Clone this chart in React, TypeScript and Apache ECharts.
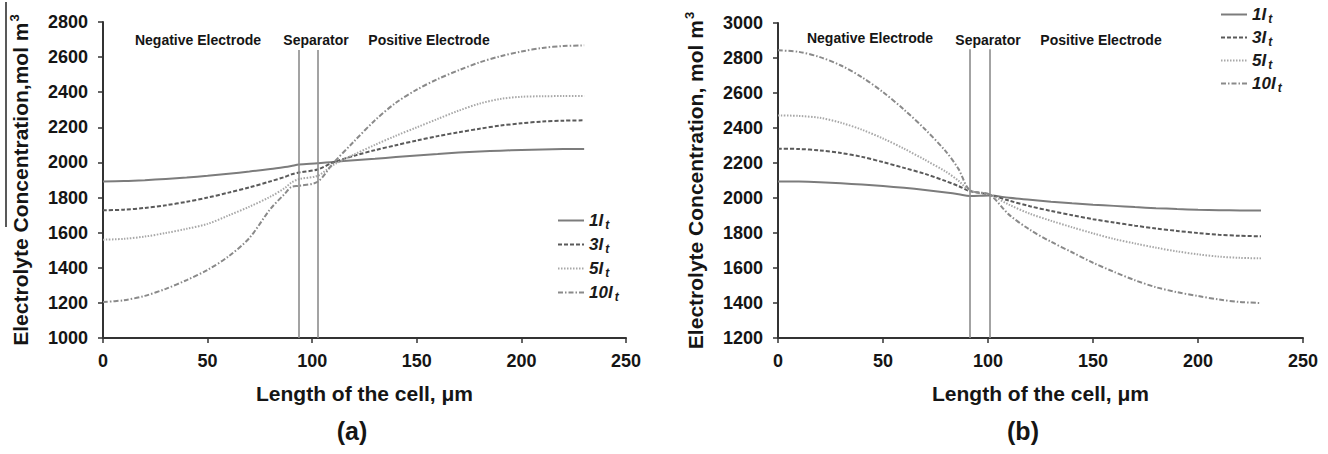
import React, { useEffect, useRef } from "react";
import * as echarts from "echarts";

// ---------- data ----------
const xA = [0, 10, 20, 30, 40, 50, 60, 70, 80, 87, 90, 93.7, 102.6, 110, 120, 130, 140, 150, 160, 170, 180, 190, 200, 210, 220, 230];
const a1 = [1892, 1894, 1899, 1906, 1914, 1924, 1936, 1948, 1962, 1974, 1980, 1988, 1995, 2003, 2012, 2021, 2031, 2040, 2048, 2056, 2062, 2067, 2071, 2074, 2076, 2077];
const a3 = [1727, 1731, 1741, 1756, 1776, 1800, 1828, 1858, 1892, 1918, 1932, 1943, 1960, 2000, 2038, 2070, 2098, 2125, 2150, 2172, 2192, 2210, 2223, 2233, 2238, 2240];
const a5 = [1560, 1565, 1578, 1598, 1622, 1650, 1698, 1748, 1805, 1855, 1885, 1905, 1924, 1985, 2045, 2100, 2152, 2200, 2248, 2295, 2335, 2362, 2374, 2377, 2378, 2378];
const a10 = [1205, 1215, 1240, 1280, 1330, 1388, 1465, 1570, 1735, 1823, 1860, 1867, 1890, 1995, 2120, 2240, 2340, 2415, 2475, 2525, 2570, 2605, 2632, 2652, 2663, 2667];

const xB = [0, 10, 20, 30, 40, 50, 60, 70, 80, 86, 91.3, 100.8, 110, 120, 130, 140, 150, 160, 170, 180, 190, 200, 210, 220, 230];
const b1 = [2095, 2094, 2090, 2084, 2077, 2068, 2058, 2046, 2032, 2022, 2011, 2014, 2001, 1990, 1979, 1970, 1962, 1955, 1948, 1942, 1937, 1933, 1930, 1929, 1928];
const b3 = [2282, 2280, 2272, 2257, 2235, 2205, 2172, 2138, 2096, 2068, 2040, 2019, 1985, 1953, 1926, 1902, 1879, 1860, 1842, 1826, 1812, 1800, 1790, 1784, 1781];
const b5 = [2472, 2469, 2458, 2430, 2390, 2340, 2282, 2218, 2150, 2098, 2043, 2019, 1962, 1910, 1870, 1833, 1798, 1766, 1740, 1716, 1695, 1678, 1665, 1658, 1655];
const b10 = [2844, 2835, 2805, 2757, 2690, 2605, 2505, 2393, 2265, 2165, 2045, 2019, 1905, 1818, 1750, 1690, 1630, 1578, 1530, 1490, 1462, 1440, 1420, 1406, 1400];

const seriesLabels = ["1I", "3I", "5I", "10I"];
const sepA = [93.7, 102.6];
const sepB = [91.3, 100.8];
const regionLabels = ["Negative Electrode", "Separator", "Positive Electrode"];

const FONT = '"Liberation Sans", Arial, Helvetica, sans-serif';

const styles = [
  { type: "solid" as any, color: "#7c7c7c", width: 2 },
  { type: [4, 2] as any, color: "#5a5a5a", width: 2 },
  { type: [1.5, 1.5] as any, color: "#a8a8a8", width: 2 },
  { type: [5, 2, 1.5, 2] as any, color: "#8a8a8a", width: 2 },
];

function pairs(xs: number[], ys: number[]) {
  return xs.map((x, i) => [x, ys[i]]);
}

export default function App() {
  const ref = useRef<HTMLDivElement>(null);
  useEffect(() => {
    if (!ref.current) return;
    const chart = echarts.init(ref.current, null, { renderer: "svg" });

    const labelMap: Record<string, string> = {};
    const aSets = [a1, a3, a5, a10];
    const bSets = [b1, b3, b5, b10];
    const series: any[] = [];
    const mk = (prefix: string, gi: number, xs: number[], sets: number[][], seps: number[], y0: number, y1: number) => {
      sets.forEach((ys, i) => {
        const name = prefix + seriesLabels[i];
        labelMap[name] = seriesLabels[i];
        series.push({
          name,
          type: "line",
          xAxisIndex: gi,
          yAxisIndex: gi,
          data: pairs(xs, ys),
          showSymbol: false,
          symbol: "none",
          smooth: 0.3,
          lineStyle: { ...styles[i] },
          itemStyle: { color: styles[i].color },
          z: 3,
          markLine:
            i === 0
              ? {
                  silent: true,
                  symbol: "none",
                  label: { show: false },
                  lineStyle: { color: "#8c8c8c", width: 1.6, type: "solid" },
                  data: seps.map((s) => [{ coord: [s, y0] }, { coord: [s, y1] }]),
                }
              : undefined,
        });
      });
    };
    mk("a", 0, xA, aSets, sepA, 1000, 2640);
    mk("b", 1, xB, bSets, sepB, 1200, 2850);

    const axisCommon = {
      axisLine: { show: true, onZero: false, lineStyle: { color: "#333", width: 2 } },
      axisTick: { show: true, length: 5, lineStyle: { color: "#333", width: 1.5 } },
      splitLine: { show: false },
    };
    const tickLabel = {
      fontFamily: FONT,
      fontSize: 18,
      fontWeight: "bold",
      color: "#151515",
      formatter: (v: number) => String(v),
    };

    const xAxisFor = (gi: number) => ({
      type: "value",
      gridIndex: gi,
      min: 0,
      max: 250,
      interval: 50,
      ...axisCommon,
      axisLabel: { ...tickLabel, margin: 14 },
      name: "Length of the cell, \u03bcm",
      nameLocation: "middle",
      nameGap: 45,
      nameTextStyle: { fontFamily: FONT, fontSize: 21, fontWeight: "bold", color: "#151515" },
    });
    const yAxisFor = (gi: number, min: number, max: number, name: string) => ({
      type: "value",
      gridIndex: gi,
      min,
      max,
      interval: 200,
      ...axisCommon,
      axisLabel: { ...tickLabel, margin: 15 },
      name,
      nameLocation: "middle",
      nameRotate: 90,
      nameGap: 70,
      nameTextStyle: {
        fontFamily: FONT,
        fontSize: 21,
        fontWeight: "bold",
        color: "#151515",
        rich: {
          sup: { fontFamily: FONT, fontSize: 13, fontWeight: "bold", color: "#151515", padding: [0, 0, 12, 1] },
        },
      },
    });

    const legendRich = {
      n: { fontFamily: FONT, fontSize: 17, fontWeight: "bold", fontStyle: "italic", color: "#1a1a1a" },
      s: { fontFamily: FONT, fontSize: 12, fontWeight: "bold", fontStyle: "italic", color: "#1a1a1a", padding: [9, 0, 0, 2] },
    };
    const legendFor = (prefix: string, left: number, top: number, gap: number) => ({
      orient: "vertical",
      left,
      top,
      padding: 0,
      itemWidth: 26,
      itemHeight: 10,
      itemGap: gap,
      data: seriesLabels.map((l) => prefix + l),
      formatter: (name: string) => `{n|${labelMap[name]}}{s|t}`,
      textStyle: { rich: legendRich },
      itemStyle: { opacity: 0 },
      selectedMode: false,
    });

    const text = (x: number, y: number, t: string, size: number) => ({
      type: "text",
      x,
      y,
      style: {
        text: t,
        fontFamily: FONT,
        fontSize: size,
        fontWeight: "bold",
        fill: "#151515",
        align: "center",
        verticalAlign: "middle",
      },
    });

    chart.setOption({
      animation: false,
      backgroundColor: "#ffffff",
      grid: [
        { left: 103, top: 22, width: 523, height: 316, containLabel: false },
        { left: 778, top: 23, width: 525, height: 315, containLabel: false },
      ],
      xAxis: [xAxisFor(0), xAxisFor(1)],
      yAxis: [
        yAxisFor(0, 1000, 2800, "Electrolyte Concentration,mol m{sup|3}"),
        yAxisFor(1, 1200, 3000, "Electrolyte Concentration, mol m{sup|3}"),
      ],
      legend: [legendFor("a", 557, 212, 5), legendFor("b", 1220, 6, 4)],
      series,
      graphic: [
        text(198, 40, regionLabels[0], 14),
        text(316, 40, regionLabels[1], 14),
        text(429, 40, regionLabels[2], 14),
        text(870, 38, regionLabels[0], 14),
        text(988, 40, regionLabels[1], 14),
        text(1101, 40, regionLabels[2], 14),
        text(352, 431, "(a)", 25),
        text(1023, 431, "(b)", 25),
        {
          type: "line",
          shape: { x1: 6, y1: 2, x2: 6, y2: 227 },
          style: { stroke: "#222", lineWidth: 1.5 },
        },
      ],
    });
    return () => chart.dispose();
  }, []);
  return (
    <div
      ref={ref}
      style={{ position: "absolute", left: 0, top: 0, width: 1328, height: 454, background: "#fff" }}
    />
  );
}
